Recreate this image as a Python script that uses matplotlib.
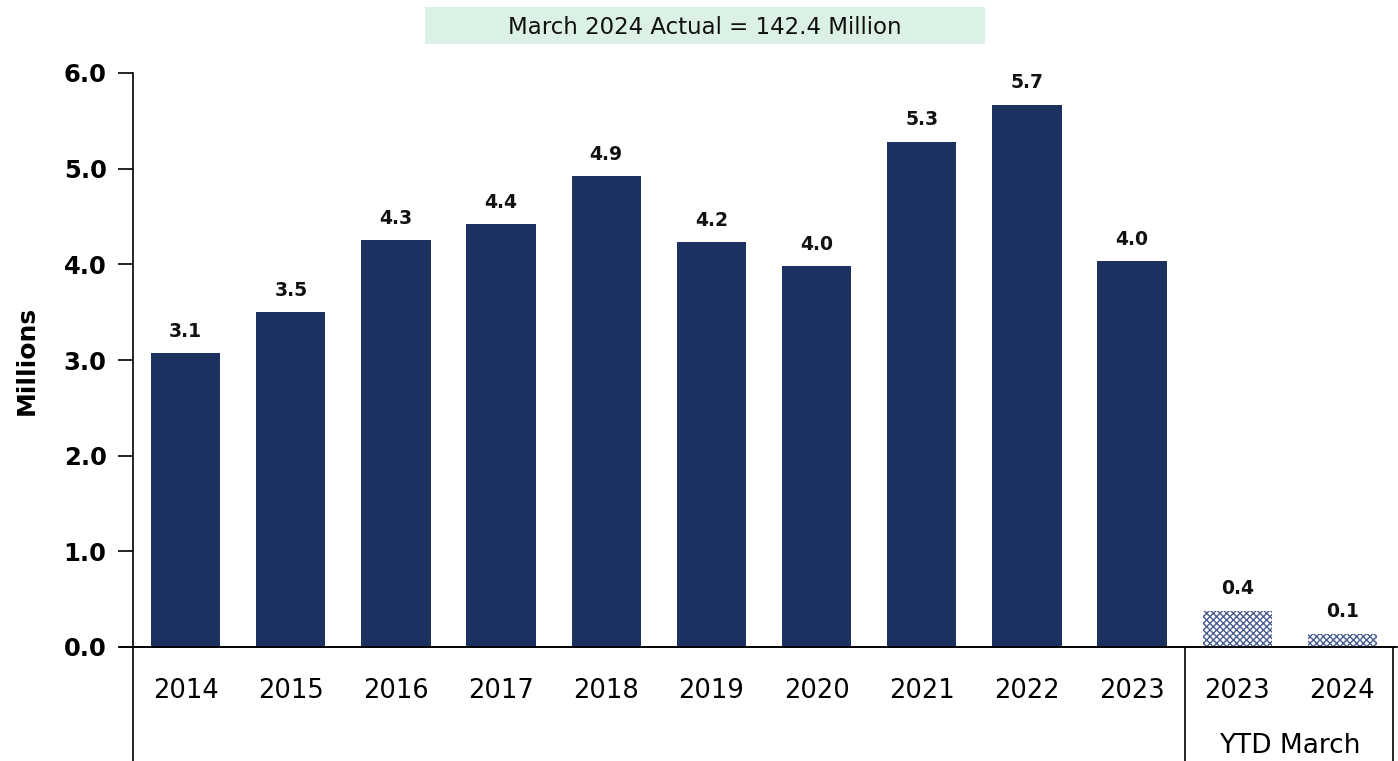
import matplotlib
matplotlib.use("Agg")
import matplotlib.pyplot as plt
from matplotlib.patches import Rectangle
import matplotlib.transforms as mtransforms

years = ["2014", "2015", "2016", "2017", "2018", "2019", "2020", "2021", "2022", "2023", "2023", "2024"]
values = [3.07, 3.50, 4.25, 4.42, 4.92, 4.23, 3.98, 5.28, 5.67, 4.03, 0.38, 0.14]
labels = ["3.1", "3.5", "4.3", "4.4", "4.9", "4.2", "4.0", "5.3", "5.7", "4.0", "0.4", "0.1"]
ytd_flags = [False] * 10 + [True, True]
group_label = "YTD March"
title = "March 2024 Actual = 142.4 Million"
ylabel = "Millions"
yticks = [0, 1, 2, 3, 4, 5, 6]

plt.rcParams['font.family'] = ['DejaVu Sans']
W, H = 1398, 761
fig = plt.figure(figsize=(W / 100, H / 100), dpi=100)
ax_left, ax_right, ax_top, ax_bot = 133, 1395, 73, 647
ax = fig.add_axes([ax_left / W, (H - ax_bot) / H, (ax_right - ax_left) / W, (ax_bot - ax_top) / H])

navy = "#1c3160"
x = list(range(len(years)))
for xi, v, lab, ytd in zip(x, values, labels, ytd_flags):
    if ytd:
        ax.bar(xi, v, width=0.66, color="white", edgecolor="#4a5d92", hatch="xxxxx", linewidth=0)
    else:
        ax.bar(xi, v, width=0.66, color=navy, linewidth=0)
    ax.text(xi, v + 0.13, lab, ha="center", va="bottom", fontsize=13.5, fontweight="bold", color="#111111")

ax.set_xlim(-0.5, len(years) - 0.5)
ax.set_ylim(0, 6)
ax.set_yticks(yticks)
ax.set_yticklabels([f"{t:.1f}" for t in yticks], fontsize=17.5, fontweight="bold")
ax.tick_params(axis="y", direction="out", length=11, width=1.2, pad=8)
ax.set_xticks(x)
ax.set_xticklabels(years, fontsize=18.5)
ax.tick_params(axis="x", length=0, pad=22)
for s in ["top", "right"]:
    ax.spines[s].set_visible(False)
ax.spines["left"].set_linewidth(1.2)
ax.spines["bottom"].set_linewidth(1.2)
ax.set_ylabel(ylabel, fontsize=18, fontweight="bold", labelpad=18)

# category box lines
trans = mtransforms.blended_transform_factory(ax.transData, ax.transAxes)
depth = -(H - ax_bot) / (ax_bot - ax_top)
for xv in [-0.5, 9.5, 11.48]:
    ax.plot([xv, xv], [0, depth], transform=trans, color="black", lw=1.2, clip_on=False)
ax.plot([-0.62, 11.6], [0, 0], transform=trans, color="black", lw=1.2, clip_on=False)
ax.text(10.5, depth + 0.003, group_label, transform=trans, ha="center", va="bottom", fontsize=19)

# title box
fig.patches.append(Rectangle((425 / W, 1 - 44 / H), (985 - 425) / W, 37 / H,
                             transform=fig.transFigure, facecolor="#dcf1e6", edgecolor="none"))
fig.text(705 / W, 1 - 27 / H, title, ha="center", va="center", fontsize=16.5, color="#111111")

fig.savefig("out.png", dpi=100)
